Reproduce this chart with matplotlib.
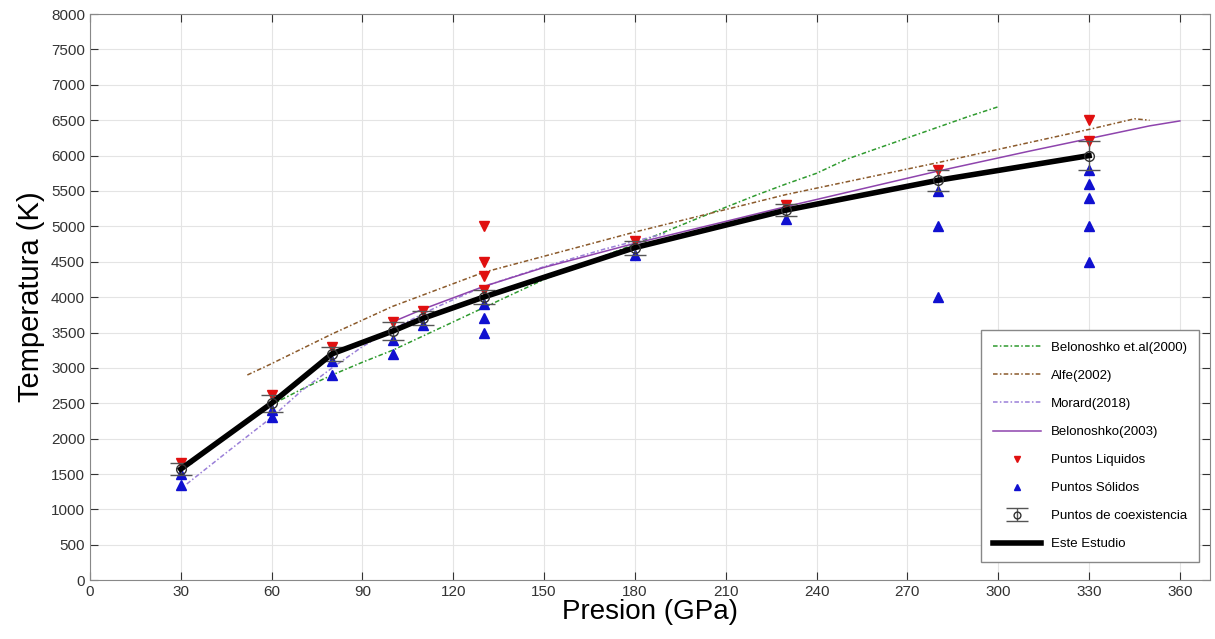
import numpy as np
import matplotlib
matplotlib.use('Agg')
import matplotlib.pyplot as plt

plt.rcParams['font.family'] = ['Liberation Sans', 'DejaVu Sans']

# Este Estudio / puntos de coexistencia
pEst = [30, 60, 80, 100, 110, 130, 180, 230, 280, 330]
tEst = [1570, 2500, 3200, 3520, 3700, 4000, 4700, 5230, 5650, 6000]
errEst = [80, 120, 100, 130, 100, 100, 100, 80, 150, 200]

# Puntos liquidos
pLiq = [30, 60, 80, 100, 110, 130, 130, 130, 130, 180, 230, 280, 330, 330]
tLiq = [1650, 2620, 3300, 3650, 3800, 4100, 4300, 4500, 5000, 4800, 5300, 5800, 6200, 6500]

# Puntos solidos
pSol = [30, 30, 60, 60, 80, 80, 100, 100, 110, 130, 130, 130, 180, 230,
        280, 280, 280, 330, 330, 330, 330, 330]
tSol = [1350, 1500, 2300, 2400, 2900, 3100, 3200, 3400, 3600, 3500, 3700, 3900, 4600, 5100,
        4000, 5000, 5500, 4500, 5000, 5400, 5600, 5800]

# Belonoshko et.al(2000)
pBel00 = [60, 70, 80, 90, 100, 110, 130, 150, 180, 200, 220, 230, 240, 250, 260, 270, 280, 290, 300]
tBel00 = [2480, 2700, 2900, 3080, 3250, 3450, 3850, 4250, 4750, 5100, 5440, 5600, 5750, 5950,
          6100, 6250, 6400, 6550, 6690]

# Alfe(2002)
pAlfe = [52, 60, 80, 100, 130, 180, 230, 280, 330, 345, 350]
tAlfe = [2900, 3060, 3480, 3870, 4350, 4920, 5450, 5900, 6370, 6520, 6500]

# Morard(2018)
pMor = [32, 45, 60, 70, 80, 90, 100, 115, 130, 150, 170, 190]
tMor = [1360, 1800, 2300, 2680, 3000, 3300, 3550, 3870, 4150, 4430, 4680, 4900]

# Belonoshko(2003)
pBel03 = [100, 110, 130, 150, 180, 210, 230, 260, 280, 310, 330, 350, 360]
tBel03 = [3650, 3830, 4150, 4420, 4760, 5070, 5280, 5580, 5780, 6060, 6240, 6420, 6490]

fig = plt.figure(figsize=(12.15, 6.39), dpi=100)
ax = fig.add_axes([0.074, 0.092, 0.922, 0.886])

dd = (0, (3, 1.5, 1, 1.5))
h1, = ax.plot(pBel00, tBel00, color='#2e9a2e', ls=dd, lw=1.1, label='Belonoshko et.al(2000)')
h2, = ax.plot(pAlfe, tAlfe, color='#8b5a2b', ls=dd, lw=1.1, label='Alfe(2002)')
h3, = ax.plot(pMor, tMor, color='#9a7fd8', ls=dd, lw=1.1, label='Morard(2018)')
h4, = ax.plot(pBel03, tBel03, color='#8e44ad', ls='-', lw=1.1, label='Belonoshko(2003)')
h5, = ax.plot(pLiq, tLiq, 'v', color='#e01010', ms=7, ls='none', label='Puntos Liquidos')
h6, = ax.plot(pSol, tSol, '^', color='#1010d0', ms=7, ls='none', label='Puntos Sólidos')
h7 = ax.errorbar(pEst, tEst, yerr=errEst, fmt='o', mfc='none', mec='#333333', ecolor='#555555',
                 ms=7, capsize=8, elinewidth=1, label='Puntos de coexistencia')
h8, = ax.plot(pEst, tEst, color='black', lw=4, label='Este Estudio')

ax.set_xlim(0, 370)
ax.set_ylim(0, 8000)
ax.set_xticks(np.arange(0, 361, 30))
ax.set_yticks(np.arange(0, 8001, 500))
ax.tick_params(direction='in', top=True, right=True, length=6, labelsize=11, colors='#333333')
ax.grid(True, color='#e4e4e4', lw=0.8)
ax.set_axisbelow(True)
for s in ax.spines.values():
    s.set_color('#888888')

ax.set_xlabel('Presion (GPa)', fontsize=20, labelpad=0)
ax.set_ylabel('Temperatura (K)', fontsize=21, labelpad=4)

hs = [h1, h2, h3, h4, h5, h6, h7, h8]
ax.legend(hs, [h.get_label() for h in hs], loc='lower right', fontsize=9.5, labelspacing=1.2,
          handlelength=3.6, markerscale=0.7, borderpad=0.9, fancybox=False,
          edgecolor='#888888', framealpha=1, bbox_to_anchor=(0.996, 0.02))

fig.savefig('out.png', dpi=100)
